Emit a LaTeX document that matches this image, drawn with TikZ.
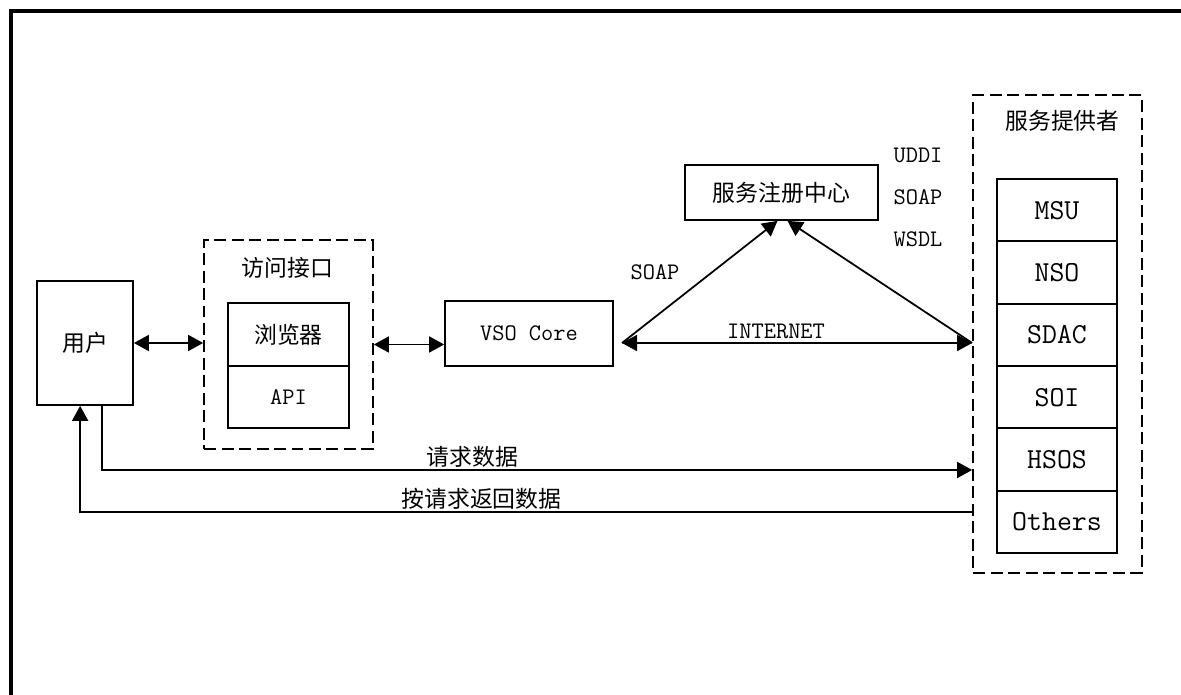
\documentclass[tikz,border=0pt]{standalone}
\usepackage{fontspec}
\newfontfamily\cjk{Noto Sans CJK SC}
\usetikzlibrary{arrows.meta}
\usetikzlibrary{positioning,calc}
\tikzset{>={Triangle[length=3mm,width=3.2mm]}}

\begin{document}
\begin{tikzpicture}[x=0.02cm,y=-0.02cm,
box/.style = {
    draw, line width=1pt, inner sep=0pt,
                            },
dashbox/.style = {
    draw, line width=1pt, inner sep=0pt,
    dash pattern=on 2.4mm off 1.1mm,
                            },
zh/.style = {font=\cjk\fontsize{13pt}{15pt}\selectfont},
en/.style = {font=\ttfamily\fontsize{13.5pt}{16pt}\selectfont},
stackbox/.style = {box, outer sep=0pt,
    minimum width=2.4cm, minimum height=1.2467cm,
    font=\ttfamily\fontsize{16.5pt}{19pt}\selectfont},
link/.style = {line width=1pt},
                    ]
\useasboundingbox (0,0) rectangle (1181,695);
% outer frame, cut by the page
\begin{scope}
\clip (0,0) rectangle (1181,695);
\draw[line width=1.8pt] (11,11) rectangle (1260,780);
\end{scope}

% boxes
\node[box,zh,minimum width=1.92cm,minimum height=2.48cm] (user) at (85,343) {用户};
\node[dashbox,minimum width=3.38cm,minimum height=4.18cm] (access) at (288.5,344.5) {};
\node[zh] (accesslbl) at ($(access.north)+(-1,29)$) {访问接口};
\node[box,zh,outer sep=0pt,minimum width=2.42cm,minimum height=1.26cm] (browser) at (288.5,334.5) {浏览器};
\node[box,en,outer sep=0pt,minimum width=2.42cm,minimum height=1.24cm,below=0pt of browser] (api) {API};
\node[box,en,minimum width=3.36cm,minimum height=1.3cm] (core) at (529,333.5) {VSO Core\hspace{0.5em}};
\node[box,zh,minimum width=3.86cm,minimum height=1.1cm] (registry) at (781.5,192.5) {服务注册中心};
\node[dashbox,minimum width=3.38cm,minimum height=9.56cm] (provider) at (1057.5,334) {};
\node[zh] (providerlbl) at ($(provider.north)+(5,27)$) {服务提供者};
\foreach \name [count=\i] in {MSU,NSO,SDAC,SOI,HSOS,Others}
    \node[stackbox] (sp\i) at (1057,{210.17+62.33*(\i-1)}) {\name};

% protocol labels
\node[en] (soapl) at (655,272) {SOAP};
\node[en] (uddi) at (918,155) {UDDI};
\node[en] (soapr) at (918,197) {SOAP};
\node[en] (wsdl) at (918,239) {WSDL};

% connectors
\coordinate (netL) at (622,343);
\coordinate (netR) at (provider.west |- netL);
\coordinate (reqY) at (0,470);
\coordinate (retY) at (0,512);
\draw[link,<->] (user.east |- 0,343) -- (access.west |- 0,343);
\draw[link,<->] (access.east) -- (access.east -| core.west);
\draw[link,<->] (netL) -- node[en,above,pos=0.44,inner sep=2pt] (inet) {INTERNET} (netR);
\draw[link,->] (netL) -- ($(registry.south)+(-4,0)$);
\draw[link,->] (netR) -- ($(registry.south)+(6,0)$);
\draw[link,->] ($(user.south east)+(-32,0)$) |- node[zh,above,pos=0.713,inner sep=1pt] (req) {请求数据} (provider.west |- reqY);
\draw[link,->] (provider.west |- retY) -| node[zh,above,pos=0.275,inner sep=1pt] (ret) {按请求返回数据} ($(user.south west)+(44,0)$);
\end{tikzpicture}
\end{document}
